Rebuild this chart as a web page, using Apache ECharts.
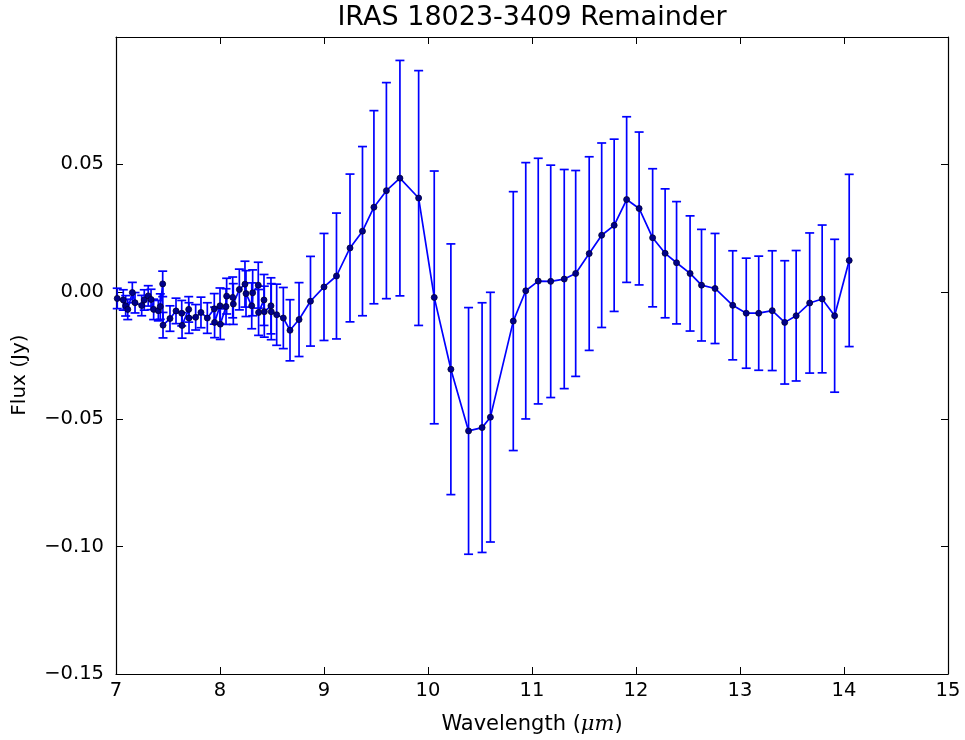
<!DOCTYPE html>
<html>
<head>
<meta charset="utf-8">
<script src="https://cdn.jsdelivr.net/npm/echarts@6/dist/echarts.min.js"></script>
<style>html,body{margin:0;padding:0;background:#fff;overflow:hidden;}#c{width:965px;height:740px;}</style>
</head>
<body>
<div id="c"></div>
<script>
const wavelength = [7.012, 7.07, 7.093, 7.113, 7.157, 7.183, 7.247, 7.272, 7.31, 7.337, 7.362, 7.407, 7.426, 7.449, 7.452, 7.519, 7.577, 7.632, 7.635, 7.699, 7.702, 7.766, 7.817, 7.878, 7.945, 7.948, 8.0, 8.003, 8.058, 8.064, 8.122, 8.128, 8.186, 8.24, 8.25, 8.305, 8.314, 8.368, 8.371, 8.423, 8.426, 8.49, 8.493, 8.545, 8.609, 8.673, 8.76, 8.87, 9.0, 9.12, 9.25, 9.37, 9.48, 9.6, 9.73, 9.91, 10.06, 10.22, 10.39, 10.52, 10.6, 10.82, 10.94, 11.06, 11.18, 11.31, 11.42, 11.55, 11.67, 11.79, 11.91, 12.03, 12.16, 12.28, 12.39, 12.52, 12.63, 12.76, 12.93, 13.06, 13.18, 13.31, 13.43, 13.54, 13.67, 13.79, 13.91, 14.05];
const flux = [-0.0026, -0.0032, -0.0055, -0.0069, -0.0003, -0.0043, -0.0054, -0.0032, -0.0016, -0.003, -0.0069, -0.0074, -0.0058, 0.0031, -0.0131, -0.0105, -0.0075, -0.0084, -0.0132, -0.0069, -0.0103, -0.01, -0.0081, -0.0103, -0.0067, -0.012, -0.0055, -0.0127, -0.0058, -0.0017, -0.0022, -0.0048, 0.0009, 0.003, -0.0007, -0.0055, -0.0004, 0.0026, -0.0081, -0.0032, -0.0078, -0.0055, -0.0078, -0.009, -0.0103, -0.0151, -0.0109, -0.0037, 0.0019, 0.0062, 0.0172, 0.0238, 0.0332, 0.0397, 0.0446, 0.0368, -0.0022, -0.0304, -0.0546, -0.0533, -0.0492, -0.0115, 0.0004, 0.0042, 0.0041, 0.005, 0.0072, 0.015, 0.0222, 0.0261, 0.0362, 0.0327, 0.0212, 0.0151, 0.0114, 0.0072, 0.0026, 0.0013, -0.0053, -0.0084, -0.0084, -0.0074, -0.012, -0.0094, -0.0044, -0.0028, -0.0094, 0.0123];
const fluxErr = [0.004, 0.004, 0.004, 0.004, 0.004, 0.004, 0.004, 0.004, 0.004, 0.004, 0.004, 0.004, 0.005, 0.005, 0.005, 0.005, 0.005, 0.005, 0.005, 0.005, 0.006, 0.005, 0.006, 0.006, 0.006, 0.006, 0.007, 0.006, 0.007, 0.007, 0.008, 0.008, 0.008, 0.009, 0.009, 0.009, 0.009, 0.009, 0.009, 0.01, 0.01, 0.011, 0.011, 0.012, 0.012, 0.012, 0.0145, 0.0176, 0.021, 0.0247, 0.029, 0.0332, 0.0379, 0.0424, 0.0462, 0.05, 0.0496, 0.0492, 0.0484, 0.049, 0.049, 0.0508, 0.0503, 0.0482, 0.0456, 0.043, 0.0404, 0.038, 0.0362, 0.0338, 0.0325, 0.030, 0.0271, 0.0253, 0.024, 0.0226, 0.0219, 0.0216, 0.0214, 0.0216, 0.0224, 0.0235, 0.0242, 0.0256, 0.0275, 0.029, 0.030, 0.0338];
const xTicks = [7, 8, 9, 10, 11, 12, 13, 14, 15];
const yTicks = [-0.15, -0.10, -0.05, 0.00, 0.05];

const FONT = 'DejaVu Sans';
const lineData = wavelength.map((x, i) => [x, flux[i]]);
const errData = wavelength.map((x, i) => [x, flux[i] - fluxErr[i], flux[i] + fluxErr[i]]);

const chart = echarts.init(document.getElementById('c'), null, { width: 965, height: 740 });
const fmtY = v => {
  const ok = yTicks.some(t => Math.abs(t - v) < 1e-9);
  if (!ok) return '';
  const s = Math.abs(v).toFixed(2);
  return (v < -1e-9 ? '\u2212' : '') + s;
};
const axisLineStyle = { color: '#000', width: 1.2 };
const tickStyle = { show: true, inside: true, length: 7, lineStyle: { color: '#000', width: 1 } };

chart.setOption({
  animation: false,
  backgroundColor: '#fff',
  grid: { left: 116, right: 17, top: 37, bottom: 56, containLabel: false },
  graphic: [{
    type: 'text', x: 532, y: 18,
    style: { text: 'IRAS 18023-3409 Remainder', font: '27px "DejaVu Sans"', fill: '#000', textAlign: 'center', textVerticalAlign: 'middle' }
  }, {
    type: 'text', x: 20, y: 375, rotation: Math.PI / 2,
    style: { text: 'Flux (Jy)', font: '20px "DejaVu Sans"', fill: '#000', textAlign: 'center', textVerticalAlign: 'middle' }
  }],
  xAxis: [{
    type: 'value', min: xTicks[0], max: xTicks[xTicks.length - 1], interval: 1,
    position: 'bottom',
    axisLine: { show: true, onZero: false, lineStyle: axisLineStyle },
    axisTick: tickStyle,
    splitLine: { show: false },
    axisLabel: { color: '#000', fontFamily: FONT, fontSize: 19.5, margin: 7 },
    name: 'Wavelength ({i|\u03bcm})', nameLocation: 'middle', nameGap: 40,
    nameTextStyle: { color: '#000', fontFamily: FONT, fontSize: 21, rich: { i: { fontFamily: 'DejaVu Serif', fontStyle: 'italic', fontSize: 21, color: '#000' } } }
  }, {
    type: 'value', min: xTicks[0], max: xTicks[xTicks.length - 1], interval: 1,
    position: 'top',
    axisLine: { show: true, onZero: false, lineStyle: axisLineStyle },
    axisTick: tickStyle,
    splitLine: { show: false },
    axisLabel: { show: false }
  }],
  yAxis: [{
    type: 'value', min: -0.15, max: 0.1, interval: 0.05,
    position: 'left',
    axisLine: { show: true, onZero: false, lineStyle: axisLineStyle },
    axisTick: tickStyle,
    splitLine: { show: false },
    axisLabel: { color: '#000', fontFamily: FONT, fontSize: 19.5, margin: 12, formatter: fmtY, showMaxLabel: false }
  }, {
    type: 'value', min: -0.15, max: 0.1, interval: 0.05,
    position: 'right',
    axisLine: { show: true, onZero: false, lineStyle: axisLineStyle },
    axisTick: tickStyle,
    splitLine: { show: false },
    axisLabel: { show: false }
  }],
  series: [{
    type: 'custom',
    xAxisIndex: 0, yAxisIndex: 0,
    z: 2,
    encode: { x: 0, y: [1, 2] },
    data: errData,
    renderItem: function (params, api) {
      const x = api.value(0);
      const lo = api.coord([x, api.value(1)]);
      const hi = api.coord([x, api.value(2)]);
      const w = 4.5;
      const st = { stroke: '#0000ff', lineWidth: 1.7 };
      return {
        type: 'group',
        children: [
          { type: 'line', shape: { x1: hi[0], y1: hi[1], x2: lo[0], y2: lo[1] }, style: st },
          { type: 'line', shape: { x1: hi[0] - w, y1: hi[1], x2: hi[0] + w, y2: hi[1] }, style: st },
          { type: 'line', shape: { x1: lo[0] - w, y1: lo[1], x2: lo[0] + w, y2: lo[1] }, style: st }
        ]
      };
    }
  }, {
    type: 'line',
    xAxisIndex: 0, yAxisIndex: 0,
    z: 3,
    data: lineData,
    lineStyle: { color: '#0000ff', width: 1.7 },
    symbol: 'circle', symbolSize: 6,
    itemStyle: { color: '#00008b', borderColor: '#000033', borderWidth: 0.8 },
    showSymbol: true
  }]
});
</script>
</body>
</html>
